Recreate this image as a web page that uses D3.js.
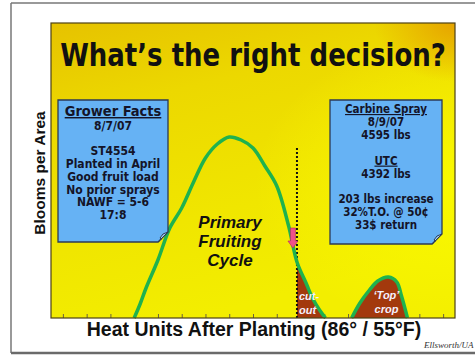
<!DOCTYPE html>
<html>
<head>
<meta charset="utf-8">
<script src="https://cdn.jsdelivr.net/npm/d3@7/dist/d3.min.js"></script>
<style>
  html, body { margin: 0; padding: 0; background: #fff; }
  svg { display: block; }
</style>
</head>
<body>
<svg id="chart" width="475" height="358"></svg>
<script>
// Bloom curve over heat units (DD 86/55 °F)
const primaryHU     = [350, 375, 400, 450, 500, 550, 600, 650, 700, 750, 800, 850, 900, 950, 1000, 1035, 1075, 1100, 1130, 1155];
const primaryBlooms = [0, 0.7, 1.5, 2.9, 4.5, 5.5, 6.8, 8.0, 8.7, 9.05, 8.9, 8.5, 7.6, 6.6, 4.6, 2.8, 1.7, 1.0, 0.4, 0];
const topCropHU     = [1265, 1300, 1340, 1375, 1420, 1455, 1475, 1500];
const topCropBlooms = [0, 0.75, 1.4, 1.85, 2.05, 1.8, 1.1, 0];
const cutoutHU = 1035;
const cutoutLineTop = 8.5;
const arrowFrom = 4.5, arrowTo = 3.5, arrowHU = 1018;
const tickHU = d3.range(50, 1700, 100);

const titleText = "What’s the right decision?";
const xLabel = "Heat Units After Planting (86° / 55°F)";
const yLabel = "Blooms per Area";
const growerLines = ["8/7/07", "", "ST4554", "Planted in April", "Good fruit load", "No prior sprays", "NAWF = 5-6", "17:8"];
const sprayLines = [
  {t: "Carbine Spray", u: true}, {t: "8/9/07"}, {t: "4595 lbs"}, {t: ""},
  {t: "UTC", u: true}, {t: "4392 lbs"}, {t: ""},
  {t: "203 lbs increase"}, {t: "32%T.O. @ 50¢"}, {t: "33$ return"}
];

const svg = d3.select("#chart");
const defs = svg.append("defs");

// panel gradient: golden top, bright yellow lower right
const g1 = defs.append("linearGradient").attr("id", "panelGrad")
  .attr("x1", 0).attr("y1", 0).attr("x2", 0.35).attr("y2", 1);
g1.append("stop").attr("offset", "0").attr("stop-color", "#e6c200");
g1.append("stop").attr("offset", "0.3").attr("stop-color", "#ecd800");
g1.append("stop").attr("offset", "0.7").attr("stop-color", "#f0e600");
g1.append("stop").attr("offset", "1").attr("stop-color", "#f3ee00");
const g2 = defs.append("radialGradient").attr("id", "cornerGlow")
  .attr("cx", 1).attr("cy", 0).attr("r", 0.2);
g2.append("stop").attr("offset", "0").attr("stop-color", "#e59a00").attr("stop-opacity", 0.85);
g2.append("stop").attr("offset", "1").attr("stop-color", "#e59a00").attr("stop-opacity", 0);
const g3 = defs.append("radialGradient").attr("id", "brightRight")
  .attr("cx", 1).attr("cy", 0.55).attr("r", 0.5);
g3.append("stop").attr("offset", "0").attr("stop-color", "#fbfb00").attr("stop-opacity", 0.9);
g3.append("stop").attr("offset", "1").attr("stop-color", "#fbfb00").attr("stop-opacity", 0);

// outer frame
svg.append("line").attr("x1", 11).attr("y1", 3).attr("x2", 475).attr("y2", 3)
  .attr("stroke", "#777").attr("stroke-width", 1.5);
svg.append("line").attr("x1", 11).attr("y1", 3).attr("x2", 11).attr("y2", 353)
  .attr("stroke", "#777").attr("stroke-width", 1.5);
svg.append("line").attr("x1", 11).attr("y1", 353).attr("x2", 475).attr("y2", 353)
  .attr("stroke", "#6a6a6a").attr("stroke-width", 2.5);

const panel = {x0: 51, y0: 23, x1: 455, y1: 318};
["url(#panelGrad)", "url(#brightRight)", "url(#cornerGlow)"].forEach(f =>
  svg.append("rect").attr("x", panel.x0).attr("y", panel.y0)
    .attr("width", panel.x1 - panel.x0).attr("height", panel.y1 - panel.y0)
    .attr("fill", f));

const x = d3.scaleLinear().domain([0, 1700]).range([panel.x0, panel.x1]);
const y = d3.scaleLinear().domain([0, 10]).range([panel.y1, 118]);

// title (drawn narrow, stretched vertically)
svg.append("text").attr("transform", "translate(253,66) scale(1,1.2)")
  .attr("text-anchor", "middle")
  .attr("font-family", "'DejaVu Sans', Verdana, sans-serif")
  .attr("font-weight", "bold").attr("font-size", 26).attr("fill", "#111")
  .text(titleText);

// axis ticks along the bottom edge
const axis = d3.axisBottom(x).tickValues(tickHU).tickSize(-4).tickFormat("");
const axG = svg.append("g").attr("transform", `translate(0,${panel.y1})`).call(axis);
axG.select(".domain").remove();
axG.selectAll(".tick line").attr("stroke", "#6b6040").attr("stroke-width", 1);

// curves
const primary = primaryHU.map((h, i) => ({h, b: primaryBlooms[i]}));
const topCrop = topCropHU.map((h, i) => ({h, b: topCropBlooms[i]}));
const line = d3.line().x(d => x(d.h)).y(d => y(d.b)).curve(d3.curveCatmullRom.alpha(0.5));
const area = d3.area().x(d => x(d.h)).y0(y(0)).y1(d => y(d.b)).curve(d3.curveCatmullRom.alpha(0.5));

defs.append("clipPath").attr("id", "afterCutout").append("rect")
  .attr("x", x(cutoutHU)).attr("y", 0).attr("width", 475).attr("height", panel.y1);

const brown = "#a3390d";
svg.append("path").datum(primary).attr("d", area).attr("fill", brown)
  .attr("clip-path", "url(#afterCutout)");
svg.append("path").datum(topCrop).attr("d", area).attr("fill", brown);

// cut-out marker line
svg.append("line").attr("x1", x(cutoutHU)).attr("x2", x(cutoutHU))
  .attr("y1", y(cutoutLineTop)).attr("y2", y(0))
  .attr("stroke", "#111").attr("stroke-width", 2).attr("stroke-dasharray", "2,2");

const green = "#1fb24e";
svg.append("path").datum(primary).attr("d", line).attr("fill", "none")
  .attr("stroke", green).attr("stroke-width", 3.5).attr("stroke-linejoin", "round");
svg.append("path").datum(topCrop).attr("d", line).attr("fill", "none")
  .attr("stroke", green).attr("stroke-width", 3.5).attr("stroke-linejoin", "round");

// panel border
svg.append("rect").attr("x", panel.x0).attr("y", panel.y0)
  .attr("width", panel.x1 - panel.x0).attr("height", panel.y1 - panel.y0)
  .attr("fill", "none").attr("stroke", "#4d4215").attr("stroke-width", 1.2);

// pink arrow
{
  const ax = x(arrowHU), ya = y(arrowFrom), yb = y(arrowTo);
  const p = `M${ax - 2.5},${ya} L${ax + 2.5},${ya} L${ax + 2.5},${yb - 7} L${ax + 5},${yb - 7} L${ax},${yb} L${ax - 5},${yb - 7} L${ax - 2.5},${yb - 7} Z`;
  svg.append("path").attr("d", p).attr("fill", "#f0508a").attr("stroke", "#b02a5a").attr("stroke-width", 0.6);
}

// curve annotations
const fruit = svg.append("text").attr("text-anchor", "middle")
  .attr("font-family", "'Liberation Sans', Arial, sans-serif")
  .attr("font-weight", "bold").attr("font-style", "italic").attr("font-size", 17).attr("fill", "#111");
["Primary", "Fruiting", "Cycle"].forEach((t, i) =>
  fruit.append("tspan").attr("x", 230).attr("y", 228 + i * 19).text(t));

const wlab = (t, xx, yy, anchor) => svg.append("text").attr("x", xx).attr("y", yy)
  .attr("text-anchor", anchor).attr("font-family", "'Liberation Sans', Arial, sans-serif")
  .attr("font-weight", "bold").attr("font-style", "italic").attr("font-size", 11)
  .attr("fill", "#f4f0ff").text(t);
wlab("cut-", x(cutoutHU) + 2, 300, "start");
wlab("out", x(cutoutHU) + 2, 314, "start");
wlab("‘Top’", x(1420) - 2, 299, "middle");
wlab("crop", x(1420) - 2, 313, "middle");

// note boxes with a curled corner
function noteBox(x0, y0, x1, y1) {
  const f = 10;
  svg.append("path")
    .attr("d", `M${x0},${y0} L${x1},${y0} L${x1},${y1 - f} L${x1 - f},${y1} L${x0},${y1} Z`)
    .attr("fill", "#66b2f4").attr("stroke", "#2c3a55").attr("stroke-width", 1.3);
  svg.append("path")
    .attr("d", `M${x1},${y1 - f} Q${x1 - 6},${y1 - f + 1} ${x1 - 8},${y1 - 4} Q${x1 - 5},${y1 - 3} ${x1 - f},${y1} Z`)
    .attr("fill", "#9fd0f8").attr("stroke", "#2c3a55").attr("stroke-width", 1);
}
const boxFont = "'DejaVu Sans Condensed', 'DejaVu Sans', Verdana, sans-serif";

noteBox(58, 100, 168, 242);
svg.append("text").attr("x", 113).attr("y", 116).attr("text-anchor", "middle")
  .attr("font-family", boxFont).attr("font-weight", "bold").attr("font-size", 14.5)
  .attr("fill", "#141428").attr("text-decoration", "underline").text("Grower Facts");
growerLines.forEach((t, i) => {
  if (!t) return;
  svg.append("text").attr("x", 113).attr("y", 130 + i * 12.7).attr("text-anchor", "middle")
    .attr("font-family", boxFont).attr("font-weight", "bold").attr("font-size", 12)
    .attr("fill", "#141428").text(t);
});

noteBox(330, 100, 442, 244);
sprayLines.forEach((d, i) => {
  if (!d.t) return;
  svg.append("text").attr("x", 386).attr("y", 113 + i * 12.9).attr("text-anchor", "middle")
    .attr("font-family", boxFont).attr("font-weight", "bold").attr("font-size", 11.5)
    .attr("fill", "#141428").attr("text-decoration", d.u ? "underline" : null).text(d.t);
});

// axis titles
svg.append("text").attr("x", 254).attr("y", 336).attr("text-anchor", "middle")
  .attr("font-family", "'Liberation Sans', Arial, sans-serif").attr("font-weight", "bold")
  .attr("font-size", 19.5).attr("fill", "#111").text(xLabel);
svg.append("text").attr("transform", "translate(45,173) rotate(-90)").attr("text-anchor", "middle")
  .attr("font-family", "'Liberation Sans', Arial, sans-serif").attr("font-weight", "bold")
  .attr("font-size", 15.5).attr("fill", "#111").text(yLabel);

// credit
svg.append("text").attr("x", 424).attr("y", 348)
  .attr("font-family", "'Liberation Serif', 'Times New Roman', serif").attr("font-style", "italic")
  .attr("font-size", 9).attr("fill", "#333").text("Ellsworth/UA");
</script>
</body>
</html>
